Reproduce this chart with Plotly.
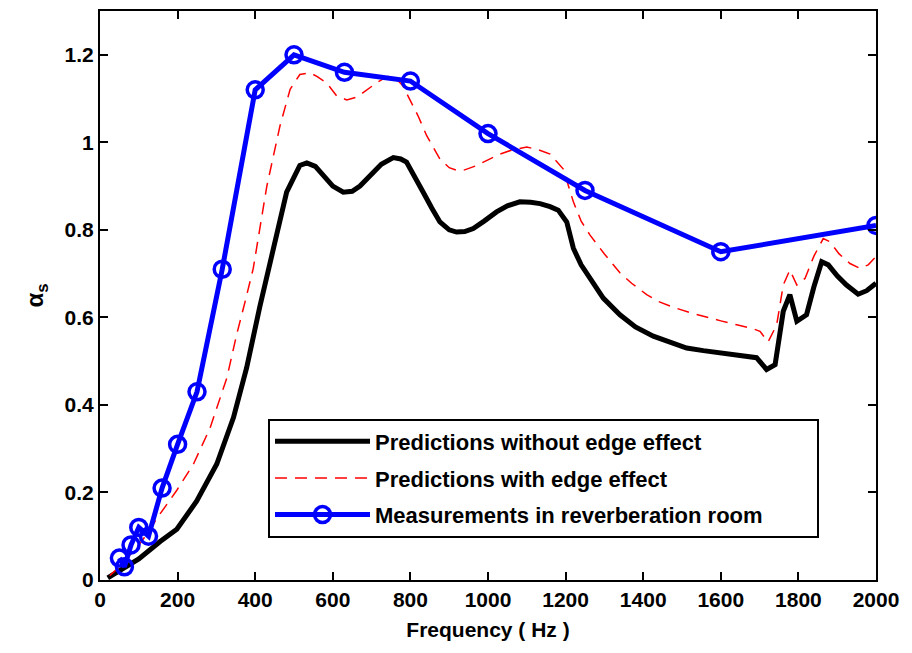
import plotly.graph_objects as go

# Predictions without edge effect (black solid)
f_no_edge = [20, 40, 69, 100, 155, 198, 249, 301, 344, 378, 412, 447, 481, 515, 533, 555, 576, 600, 627, 650,
             670, 696, 725, 756, 775, 790, 810, 833, 855, 876, 900, 919, 940, 962, 990, 1022, 1050, 1082, 1110,
             1134, 1160, 1181, 1203, 1220, 1240, 1263, 1297, 1340, 1380, 1426, 1470, 1512, 1555, 1598, 1650,
             1692, 1718, 1740, 1761, 1778, 1796, 1821, 1840, 1860, 1877, 1900, 1924, 1954, 1976, 2000]
a_no_edge = [0.005, 0.015, 0.03, 0.048, 0.088, 0.116, 0.18, 0.265, 0.371, 0.485, 0.625, 0.758, 0.886, 0.947,
             0.953, 0.945, 0.924, 0.9, 0.886, 0.888, 0.9, 0.924, 0.95, 0.965, 0.962, 0.955, 0.925, 0.886, 0.85,
             0.818, 0.8, 0.795, 0.796, 0.803, 0.82, 0.841, 0.855, 0.864, 0.863, 0.86, 0.853, 0.845, 0.818, 0.758,
             0.72, 0.689, 0.644, 0.606, 0.578, 0.557, 0.542, 0.530, 0.524, 0.519, 0.514, 0.508, 0.481, 0.492,
             0.614, 0.652, 0.591, 0.606, 0.67, 0.727, 0.72, 0.695, 0.674, 0.653, 0.661, 0.678]

# Predictions with edge effect (red dashed)
f_edge = [25, 50, 80, 100, 125, 146, 170, 198, 241, 284, 327, 352, 374, 395, 430, 464, 490, 515, 541, 560, 584,
          610, 636, 660, 679, 713, 740, 756, 780, 799, 820, 842, 876, 900, 919, 940, 971, 1000, 1031, 1060, 1100,
          1130, 1160, 1194, 1208, 1220, 1240, 1263, 1300, 1340, 1370, 1409, 1440, 1478, 1520, 1555, 1600, 1641,
          1680, 1701, 1722, 1744, 1761, 1778, 1796, 1817, 1840, 1864, 1881, 1905, 1933, 1959, 1980, 2000]
a_edge = [0.01, 0.03, 0.06, 0.08, 0.11, 0.14, 0.17, 0.205, 0.265, 0.348, 0.462, 0.56, 0.636, 0.712, 0.90, 1.038,
          1.121, 1.155, 1.159, 1.15, 1.136, 1.106, 1.097, 1.103, 1.114, 1.136, 1.15, 1.152, 1.13, 1.098, 1.06,
          1.015, 0.962, 0.942, 0.936, 0.937, 0.947, 0.96, 0.973, 0.982, 0.989, 0.983, 0.973, 0.939, 0.9, 0.864,
          0.82, 0.788, 0.745, 0.702, 0.678, 0.652, 0.636, 0.623, 0.611, 0.602, 0.592, 0.583, 0.575, 0.568, 0.544,
          0.583, 0.674, 0.708, 0.674, 0.689, 0.74, 0.78, 0.773, 0.745, 0.723, 0.712, 0.72, 0.739]

# Measurements in reverberation room (blue with circles)
f_meas = [50, 63, 80, 100, 125, 160, 200, 250, 315, 400, 500, 630, 800, 1000, 1250, 1600, 2000]
a_meas = [0.05, 0.03, 0.08, 0.12, 0.10, 0.21, 0.31, 0.43, 0.71, 1.12, 1.20, 1.16, 1.14, 1.02, 0.89, 0.75, 0.81]

font_family = "Liberation Sans, Arial, sans-serif"
pad = "\u00a0" * 8

fig = go.Figure()
fig.add_trace(go.Scatter(x=f_no_edge, y=a_no_edge, mode="lines", name="Predictions without edge effect",
                         line=dict(color="black", width=5), legendgroup="a"))
fig.add_trace(go.Scatter(x=f_edge, y=a_edge, mode="lines", name="Predictions with edge effect",
                         line=dict(color="red", width=1.5, dash="12px,8px"), legendgroup="b"))
fig.add_trace(go.Scatter(x=f_meas, y=a_meas, mode="lines+markers", name="Measurements in reverberation room" + pad,
                         line=dict(color="blue", width=5),
                         marker=dict(symbol="circle-open", size=16, color="blue", line=dict(width=3.5, color="blue")),
                         legendgroup="c"))

axis_common = dict(showline=True, linecolor="black", linewidth=2, mirror="ticks", ticks="inside",
                   ticklen=8, tickwidth=1.5, tickcolor="black", showgrid=False, zeroline=False,
                   tickfont=dict(family=font_family, size=21, color="black", weight="bold"))

fig.update_xaxes(range=[0, 2000], dtick=200, tick0=0,
                 title=dict(text="Frequency ( Hz )",
                            font=dict(family=font_family, size=21, color="black", weight="bold"),
                            standoff=12),
                 **axis_common)
fig.update_yaxes(range=[0, 1.3], dtick=0.2, tick0=0,
                 title=dict(text="α<sub>s</sub>",
                            font=dict(family=font_family, size=24, color="black", weight="bold"),
                            standoff=14),
                 **axis_common)

fig.update_layout(
    width=912, height=653,
    margin=dict(l=100, r=36, t=9, b=73),
    paper_bgcolor="white", plot_bgcolor="white",
    showlegend=True,
    legend=dict(x=0.2165, y=0.2837, xanchor="left", yanchor="top",
                bgcolor="white", bordercolor="black", borderwidth=2,
                font=dict(family=font_family, size=22, color="black", weight="bold"),
                itemwidth=95, tracegroupgap=5, traceorder="grouped"),
)

fig.write_html("out.html")
